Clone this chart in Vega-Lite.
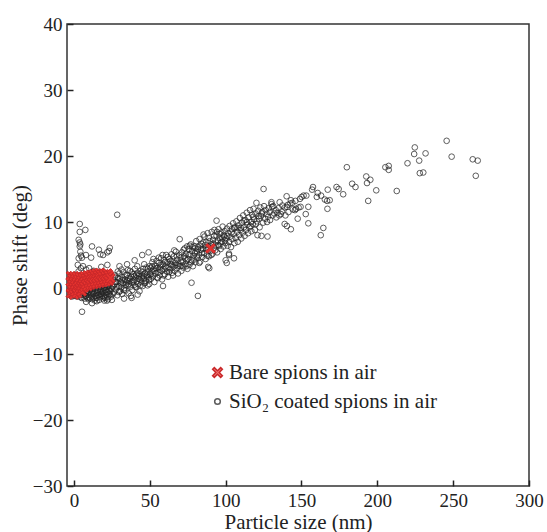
{
"$schema":"https://vega.github.io/schema/vega-lite/v6.json",
"width":462,"height":462,
"autosize":{"type":"none"},
"padding":{"left":67,"top":24,"right":18,"bottom":46},
"background":"white",
"config":{"view":{"stroke":"#333","strokeWidth":1.5},"font":"Liberation Serif"},
"data":{"values":[
{"x":-2,"y":-0.5,"s":"c"},{"x":-2,"y":0.3,"s":"c"},{"x":-2,"y":1.0,"s":"c"},{"x":-2,"y":-1.0,"s":"c"},
{"x":-1,"y":0.8,"s":"c"},{"x":-1,"y":-0.3,"s":"c"},{"x":-1,"y":1.5,"s":"c"},{"x":-1,"y":-0.8,"s":"c"},
{"x":0,"y":0.1,"s":"c"},{"x":0,"y":-0.6,"s":"c"},{"x":0,"y":0.6,"s":"c"},{"x":0,"y":1.2,"s":"c"},{"x":0,"y":-1.2,"s":"c"},
{"x":1,"y":-0.2,"s":"c"},{"x":1,"y":0.4,"s":"c"},{"x":1,"y":-0.9,"s":"c"},{"x":1,"y":1.0,"s":"c"},
{"x":2,"y":0.2,"s":"c"},{"x":2,"y":-0.5,"s":"c"},{"x":2,"y":0.9,"s":"c"},{"x":2,"y":-1.3,"s":"c"},{"x":2,"y":1.8,"s":"c"},
{"x":3,"y":-0.1,"s":"c"},{"x":3,"y":0.6,"s":"c"},{"x":3,"y":-0.7,"s":"c"},{"x":3,"y":1.4,"s":"c"},{"x":3,"y":2.5,"s":"c"},
{"x":4,"y":0.3,"s":"c"},{"x":4,"y":-0.4,"s":"c"},{"x":4,"y":-1.1,"s":"c"},{"x":4,"y":1.0,"s":"c"},
{"x":5,"y":0.0,"s":"c"},{"x":5,"y":-0.8,"s":"c"},{"x":5,"y":0.7,"s":"c"},{"x":5,"y":-1.5,"s":"c"},
{"x":6,"y":0.4,"s":"c"},{"x":6,"y":-0.3,"s":"c"},{"x":6,"y":-1.0,"s":"c"},{"x":6,"y":1.2,"s":"c"},
{"x":7,"y":-0.2,"s":"c"},{"x":7,"y":0.5,"s":"c"},{"x":7,"y":-0.9,"s":"c"},{"x":7,"y":-1.6,"s":"c"},
{"x":8,"y":0.1,"s":"c"},{"x":8,"y":-0.6,"s":"c"},{"x":8,"y":0.8,"s":"c"},{"x":8,"y":-1.2,"s":"c"},
{"x":9,"y":-0.4,"s":"c"},{"x":9,"y":0.3,"s":"c"},{"x":9,"y":-1.0,"s":"c"},{"x":9,"y":1.1,"s":"c"},
{"x":10,"y":0.0,"s":"c"},{"x":10,"y":-0.7,"s":"c"},{"x":10,"y":0.6,"s":"c"},{"x":10,"y":-1.4,"s":"c"},
{"x":11,"y":-0.3,"s":"c"},{"x":11,"y":0.4,"s":"c"},{"x":11,"y":-1.1,"s":"c"},{"x":11,"y":0.9,"s":"c"},
{"x":12,"y":0.2,"s":"c"},{"x":12,"y":-0.5,"s":"c"},{"x":12,"y":-1.7,"s":"c"},{"x":12,"y":1.0,"s":"c"},
{"x":13,"y":-0.1,"s":"c"},{"x":13,"y":0.5,"s":"c"},{"x":13,"y":-0.9,"s":"c"},{"x":13,"y":-1.4,"s":"c"},
{"x":14,"y":0.3,"s":"c"},{"x":14,"y":-0.4,"s":"c"},{"x":14,"y":-1.2,"s":"c"},{"x":14,"y":0.9,"s":"c"},
{"x":15,"y":0.0,"s":"c"},{"x":15,"y":-0.8,"s":"c"},{"x":15,"y":0.6,"s":"c"},{"x":15,"y":-1.5,"s":"c"},{"x":15,"y":1.3,"s":"c"},
{"x":16,"y":-0.3,"s":"c"},{"x":16,"y":0.4,"s":"c"},{"x":16,"y":-1.0,"s":"c"},{"x":16,"y":1.0,"s":"c"},
{"x":17,"y":0.1,"s":"c"},{"x":17,"y":-0.6,"s":"c"},{"x":17,"y":0.8,"s":"c"},{"x":17,"y":-1.3,"s":"c"},
{"x":18,"y":-0.2,"s":"c"},{"x":18,"y":0.5,"s":"c"},{"x":18,"y":-0.9,"s":"c"},{"x":18,"y":1.2,"s":"c"},
{"x":19,"y":0.3,"s":"c"},{"x":19,"y":-0.5,"s":"c"},{"x":19,"y":-1.6,"s":"c"},{"x":19,"y":0.9,"s":"c"},
{"x":20,"y":0.0,"s":"c"},{"x":20,"y":0.7,"s":"c"},{"x":20,"y":-0.8,"s":"c"},{"x":20,"y":-1.2,"s":"c"},{"x":20,"y":1.5,"s":"c"},
{"x":21,"y":-0.3,"s":"c"},{"x":21,"y":0.4,"s":"c"},{"x":21,"y":-1.0,"s":"c"},{"x":21,"y":1.1,"s":"c"},
{"x":22,"y":0.2,"s":"c"},{"x":22,"y":-0.6,"s":"c"},{"x":22,"y":0.9,"s":"c"},{"x":22,"y":-1.4,"s":"c"},
{"x":23,"y":0.5,"s":"c"},{"x":23,"y":-0.2,"s":"c"},{"x":23,"y":1.3,"s":"c"},{"x":23,"y":-0.9,"s":"c"},
{"x":24,"y":0.1,"s":"c"},{"x":24,"y":0.8,"s":"c"},{"x":24,"y":-0.5,"s":"c"},{"x":24,"y":1.8,"s":"c"},
{"x":-1.5,"y":-1.3,"s":"c"},{"x":-0.5,"y":-0.4,"s":"c"},{"x":0.5,"y":0.2,"s":"c"},{"x":1.5,"y":-1.1,"s":"c"},{"x":2.5,"y":-0.3,"s":"c"},{"x":3.5,"y":0.4,"s":"c"},{"x":4.5,"y":-1.4,"s":"c"},{"x":5.5,"y":-0.6,"s":"c"},{"x":6.5,"y":0.3,"s":"c"},{"x":7.5,"y":-1.2,"s":"c"},{"x":8.5,"y":-0.4,"s":"c"},{"x":9.5,"y":-1.7,"s":"c"},{"x":10.5,"y":-0.2,"s":"c"},{"x":11.5,"y":-1.3,"s":"c"},{"x":12.5,"y":-0.7,"s":"c"},{"x":13.5,"y":0.1,"s":"c"},{"x":14.5,"y":-1.5,"s":"c"},{"x":15.5,"y":-0.5,"s":"c"},{"x":16.5,"y":-1.8,"s":"c"},{"x":17.5,"y":-0.3,"s":"c"},{"x":18.5,"y":-1.2,"s":"c"},{"x":19.5,"y":0.0,"s":"c"},{"x":20.5,"y":-1.5,"s":"c"},{"x":21.5,"y":-0.6,"s":"c"},{"x":22.5,"y":-1.7,"s":"c"},{"x":23.5,"y":-0.4,"s":"c"},{"x":24.5,"y":-1.3,"s":"c"},
{"x":9.2,"y":-1.5,"s":"c"},{"x":11.7,"y":-0.8,"s":"c"},{"x":13.8,"y":-1.9,"s":"c"},{"x":15.8,"y":-1.1,"s":"c"},{"x":17.8,"y":-0.9,"s":"c"},{"x":19.8,"y":-1.4,"s":"c"},{"x":21.8,"y":-1.9,"s":"c"},{"x":23.8,"y":-1.0,"s":"c"},{"x":24.8,"y":-0.1,"s":"c"},{"x":22.8,"y":0.3,"s":"c"},{"x":20.8,"y":-0.3,"s":"c"},{"x":18.8,"y":-0.6,"s":"c"},
{"x":11.9,"y":-2.3,"s":"c"},{"x":5.3,"y":-3.6,"s":"c"},{"x":15,"y":-2.0,"s":"c"},{"x":20,"y":-1.9,"s":"c"},{"x":8,"y":-2.1,"s":"c"},{"x":25,"y":-1.8,"s":"c"},
{"x":3.8,"y":9.7,"s":"c"},{"x":7.5,"y":8.8,"s":"c"},{"x":3.8,"y":8.5,"s":"c"},{"x":3.1,"y":7.3,"s":"c"},{"x":3.8,"y":6.9,"s":"c"},{"x":4.2,"y":6.6,"s":"c"},{"x":3.8,"y":6.3,"s":"c"},{"x":4.2,"y":5.5,"s":"c"},{"x":4.6,"y":4.9,"s":"c"},{"x":3.1,"y":4.5,"s":"c"},{"x":5.3,"y":4.6,"s":"c"},
{"x":11.9,"y":6.3,"s":"c"},{"x":16.4,"y":5.8,"s":"c"},{"x":17.4,"y":5.1,"s":"c"},{"x":19.2,"y":5.0,"s":"c"},{"x":21.9,"y":5.4,"s":"c"},{"x":23.6,"y":6.1,"s":"c"},{"x":23,"y":5.6,"s":"c"},{"x":11.3,"y":4.6,"s":"c"},{"x":7.9,"y":5.0,"s":"c"},{"x":28.5,"y":11.1,"s":"c"},
{"x":2.5,"y":3.5,"s":"c"},{"x":4.5,"y":3.0,"s":"c"},{"x":6,"y":3.3,"s":"c"},{"x":8,"y":2.8,"s":"c"},{"x":10,"y":3.0,"s":"c"},{"x":13,"y":2.6,"s":"c"},{"x":18,"y":3.2,"s":"c"},{"x":22,"y":3.5,"s":"c"},
{"x":25.3,"y":0.2,"s":"c"},{"x":25.8,"y":1.3,"s":"c"},{"x":26.4,"y":-0.7,"s":"c"},{"x":26.9,"y":0.6,"s":"c"},{"x":27.2,"y":1.9,"s":"c"},{"x":27.7,"y":-0.2,"s":"c"},{"x":28.1,"y":0.9,"s":"c"},{"x":28.6,"y":-1.1,"s":"c"},{"x":29.0,"y":1.5,"s":"c"},{"x":29.4,"y":0.3,"s":"c"},{"x":29.9,"y":2.2,"s":"c"},{"x":30.3,"y":-0.5,"s":"c"},{"x":30.6,"y":1.0,"s":"c"},{"x":31.1,"y":0.1,"s":"c"},{"x":31.5,"y":1.7,"s":"c"},{"x":31.8,"y":-0.9,"s":"c"},{"x":32.3,"y":0.7,"s":"c"},{"x":32.7,"y":2.4,"s":"c"},{"x":33.2,"y":0.0,"s":"c"},{"x":33.5,"y":1.3,"s":"c"},{"x":34.0,"y":-0.4,"s":"c"},{"x":34.4,"y":0.9,"s":"c"},{"x":34.8,"y":2.0,"s":"c"},{"x":35.3,"y":0.4,"s":"c"},{"x":35.7,"y":1.5,"s":"c"},{"x":36.0,"y":-0.8,"s":"c"},{"x":36.5,"y":1.1,"s":"c"},{"x":36.9,"y":2.6,"s":"c"},{"x":37.3,"y":0.2,"s":"c"},{"x":37.8,"y":1.7,"s":"c"},{"x":38.2,"y":0.8,"s":"c"},{"x":38.5,"y":-0.3,"s":"c"},{"x":39.0,"y":2.1,"s":"c"},{"x":39.4,"y":1.2,"s":"c"},{"x":39.9,"y":0.5,"s":"c"},{"x":40.2,"y":2.9,"s":"c"},{"x":40.7,"y":1.6,"s":"c"},{"x":41.1,"y":0.1,"s":"c"},{"x":41.4,"y":1.0,"s":"c"},{"x":41.9,"y":2.3,"s":"c"},{"x":42.3,"y":0.6,"s":"c"},{"x":42.8,"y":1.8,"s":"c"},{"x":43.2,"y":-0.5,"s":"c"},{"x":43.5,"y":1.3,"s":"c"},{"x":44.0,"y":2.6,"s":"c"},{"x":44.4,"y":0.9,"s":"c"},{"x":44.9,"y":1.9,"s":"c"},{"x":45.3,"y":0.3,"s":"c"},{"x":45.6,"y":2.9,"s":"c"},{"x":46.1,"y":1.4,"s":"c"},{"x":46.5,"y":0.7,"s":"c"},{"x":46.8,"y":2.2,"s":"c"},{"x":47.3,"y":1.1,"s":"c"},{"x":47.7,"y":3.1,"s":"c"},{"x":48.2,"y":1.7,"s":"c"},{"x":48.5,"y":0.4,"s":"c"},{"x":49.0,"y":2.5,"s":"c"},{"x":49.4,"y":1.2,"s":"c"},{"x":49.8,"y":3.3,"s":"c"},
{"x":25.5,"y":-0.9,"s":"c"},{"x":26.1,"y":0.4,"s":"c"},{"x":26.7,"y":1.6,"s":"c"},{"x":27.5,"y":0.9,"s":"c"},{"x":28.3,"y":0.2,"s":"c"},{"x":28.9,"y":2.5,"s":"c"},{"x":29.6,"y":-0.6,"s":"c"},{"x":30.1,"y":1.4,"s":"c"},{"x":30.9,"y":0.7,"s":"c"},{"x":31.3,"y":2.8,"s":"c"},{"x":32.0,"y":1.2,"s":"c"},{"x":32.9,"y":-0.3,"s":"c"},{"x":33.8,"y":1.9,"s":"c"},{"x":34.2,"y":0.5,"s":"c"},{"x":35.0,"y":1.1,"s":"c"},{"x":35.5,"y":2.7,"s":"c"},{"x":36.2,"y":0.6,"s":"c"},{"x":37.0,"y":1.4,"s":"c"},{"x":37.5,"y":-1.2,"s":"c"},{"x":38.0,"y":2.4,"s":"c"},{"x":38.8,"y":1.0,"s":"c"},{"x":39.7,"y":1.8,"s":"c"},{"x":40.4,"y":0.2,"s":"c"},{"x":41.0,"y":2.0,"s":"c"},{"x":41.7,"y":3.3,"s":"c"},{"x":42.5,"y":1.4,"s":"c"},{"x":43.0,"y":2.1,"s":"c"},{"x":43.8,"y":0.4,"s":"c"},{"x":44.6,"y":1.5,"s":"c"},{"x":45.1,"y":2.4,"s":"c"},{"x":45.9,"y":1.8,"s":"c"},{"x":46.3,"y":3.6,"s":"c"},{"x":47.0,"y":0.8,"s":"c"},{"x":47.9,"y":2.0,"s":"c"},{"x":48.7,"y":2.9,"s":"c"},{"x":49.2,"y":1.6,"s":"c"},{"x":49.6,"y":0.6,"s":"c"},{"x":50.0,"y":2.1,"s":"c"},
{"x":49.2,"y":5.4,"s":"c"},{"x":45,"y":5.0,"s":"c"},{"x":38,"y":-1.5,"s":"c"},{"x":42,"y":-1.0,"s":"c"},{"x":33,"y":-1.6,"s":"c"},{"x":35,"y":3.6,"s":"c"},{"x":30,"y":3.3,"s":"c"},{"x":40,"y":4.2,"s":"c"},
{"x":50.4,"y":3.0,"s":"c"},{"x":50.8,"y":1.4,"s":"c"},{"x":51.3,"y":2.5,"s":"c"},{"x":51.7,"y":3.9,"s":"c"},{"x":52.2,"y":1.8,"s":"c"},{"x":52.6,"y":2.9,"s":"c"},{"x":53.0,"y":0.9,"s":"c"},{"x":53.5,"y":3.4,"s":"c"},{"x":53.9,"y":2.2,"s":"c"},{"x":54.4,"y":4.1,"s":"c"},{"x":54.8,"y":1.6,"s":"c"},{"x":55.1,"y":3.0,"s":"c"},{"x":55.6,"y":2.4,"s":"c"},{"x":56.0,"y":3.8,"s":"c"},{"x":56.5,"y":1.9,"s":"c"},{"x":56.9,"y":3.2,"s":"c"},{"x":57.4,"y":4.5,"s":"c"},{"x":57.8,"y":2.6,"s":"c"},{"x":58.1,"y":1.3,"s":"c"},{"x":58.6,"y":3.6,"s":"c"},{"x":59.0,"y":2.9,"s":"c"},{"x":59.5,"y":4.2,"s":"c"},{"x":59.9,"y":2.1,"s":"c"},{"x":60.3,"y":3.3,"s":"c"},{"x":60.8,"y":5.0,"s":"c"},{"x":61.2,"y":2.5,"s":"c"},{"x":61.6,"y":3.9,"s":"c"},{"x":62.1,"y":1.7,"s":"c"},{"x":62.5,"y":3.1,"s":"c"},{"x":62.9,"y":4.4,"s":"c"},{"x":63.4,"y":2.8,"s":"c"},{"x":63.8,"y":3.6,"s":"c"},{"x":64.3,"y":5.1,"s":"c"},{"x":64.7,"y":2.3,"s":"c"},{"x":65.0,"y":4.0,"s":"c"},{"x":65.5,"y":3.2,"s":"c"},{"x":65.9,"y":4.8,"s":"c"},{"x":66.4,"y":2.6,"s":"c"},{"x":66.8,"y":3.8,"s":"c"},{"x":67.2,"y":5.5,"s":"c"},{"x":67.7,"y":3.0,"s":"c"},{"x":68.1,"y":4.3,"s":"c"},{"x":68.6,"y":2.2,"s":"c"},{"x":69.0,"y":3.7,"s":"c"},{"x":69.5,"y":5.0,"s":"c"},{"x":69.9,"y":3.3,"s":"c"},{"x":70.3,"y":4.6,"s":"c"},{"x":70.8,"y":2.6,"s":"c"},{"x":71.2,"y":5.4,"s":"c"},{"x":71.7,"y":4.0,"s":"c"},{"x":72.1,"y":3.1,"s":"c"},{"x":72.6,"y":4.8,"s":"c"},{"x":73.0,"y":6.0,"s":"c"},{"x":73.4,"y":3.6,"s":"c"},{"x":73.9,"y":5.2,"s":"c"},{"x":74.3,"y":4.2,"s":"c"},{"x":74.8,"y":2.9,"s":"c"},
{"x":50.6,"y":2.0,"s":"c"},{"x":51.5,"y":3.3,"s":"c"},{"x":52.4,"y":4.4,"s":"c"},{"x":53.2,"y":2.6,"s":"c"},{"x":54.1,"y":3.0,"s":"c"},{"x":55.3,"y":1.5,"s":"c"},{"x":55.9,"y":4.6,"s":"c"},{"x":56.7,"y":2.8,"s":"c"},{"x":57.6,"y":3.5,"s":"c"},{"x":58.4,"y":5.0,"s":"c"},{"x":58.7,"y":0.3,"s":"c"},{"x":59.2,"y":1.9,"s":"c"},{"x":60.0,"y":3.9,"s":"c"},{"x":61.0,"y":3.0,"s":"c"},{"x":61.9,"y":4.7,"s":"c"},{"x":62.7,"y":2.4,"s":"c"},{"x":63.6,"y":4.1,"s":"c"},{"x":64.5,"y":3.5,"s":"c"},{"x":65.3,"y":1.9,"s":"c"},{"x":66.1,"y":5.7,"s":"c"},{"x":67.0,"y":3.5,"s":"c"},{"x":67.9,"y":4.8,"s":"c"},{"x":68.8,"y":3.4,"s":"c"},{"x":69.7,"y":7.4,"s":"c"},{"x":70.5,"y":4.0,"s":"c"},{"x":71.4,"y":3.4,"s":"c"},{"x":72.3,"y":5.8,"s":"c"},{"x":73.2,"y":4.5,"s":"c"},{"x":74.1,"y":3.3,"s":"c"},{"x":74.6,"y":6.3,"s":"c"},
{"x":75.2,"y":4.4,"s":"c"},{"x":75.7,"y":5.9,"s":"c"},{"x":76.1,"y":3.5,"s":"c"},{"x":76.6,"y":5.1,"s":"c"},{"x":77.0,"y":6.6,"s":"c"},{"x":77.5,"y":4.2,"s":"c"},{"x":77.9,"y":5.6,"s":"c"},{"x":78.4,"y":3.3,"s":"c"},{"x":78.8,"y":4.9,"s":"c"},{"x":79.3,"y":6.3,"s":"c"},{"x":79.7,"y":5.3,"s":"c"},{"x":80.1,"y":3.9,"s":"c"},{"x":80.6,"y":7.1,"s":"c"},{"x":81.0,"y":5.5,"s":"c"},{"x":81.5,"y":4.5,"s":"c"},{"x":81.9,"y":6.2,"s":"c"},{"x":82.4,"y":5.0,"s":"c"},{"x":82.8,"y":7.4,"s":"c"},{"x":83.2,"y":4.0,"s":"c"},{"x":83.7,"y":5.8,"s":"c"},{"x":84.1,"y":6.7,"s":"c"},{"x":84.6,"y":4.7,"s":"c"},{"x":85.0,"y":5.9,"s":"c"},{"x":85.4,"y":8.1,"s":"c"},{"x":85.9,"y":5.3,"s":"c"},{"x":86.3,"y":6.5,"s":"c"},{"x":86.8,"y":4.4,"s":"c"},{"x":87.2,"y":7.0,"s":"c"},{"x":87.7,"y":5.8,"s":"c"},{"x":88.1,"y":8.3,"s":"c"},{"x":88.6,"y":6.2,"s":"c"},{"x":89.0,"y":4.8,"s":"c"},{"x":89.5,"y":7.1,"s":"c"},{"x":89.9,"y":5.6,"s":"c"},{"x":90.4,"y":6.6,"s":"c"},{"x":90.8,"y":8.5,"s":"c"},{"x":91.3,"y":5.2,"s":"c"},{"x":91.7,"y":7.3,"s":"c"},{"x":92.2,"y":6.1,"s":"c"},{"x":92.6,"y":8.8,"s":"c"},{"x":93.1,"y":5.7,"s":"c"},{"x":93.5,"y":6.9,"s":"c"},{"x":94.0,"y":7.9,"s":"c"},{"x":94.4,"y":5.4,"s":"c"},{"x":94.9,"y":7.2,"s":"c"},{"x":95.3,"y":8.9,"s":"c"},{"x":95.8,"y":6.4,"s":"c"},{"x":96.2,"y":7.6,"s":"c"},{"x":96.7,"y":5.9,"s":"c"},{"x":97.1,"y":8.4,"s":"c"},{"x":97.6,"y":7.0,"s":"c"},{"x":98.0,"y":9.3,"s":"c"},{"x":98.5,"y":6.3,"s":"c"},{"x":98.9,"y":7.8,"s":"c"},{"x":99.4,"y":8.6,"s":"c"},{"x":99.8,"y":6.8,"s":"c"},
{"x":75.5,"y":5.0,"s":"c"},{"x":76.4,"y":6.4,"s":"c"},{"x":77.3,"y":3.9,"s":"c"},{"x":78.1,"y":6.2,"s":"c"},{"x":79.0,"y":4.3,"s":"c"},{"x":79.9,"y":6.0,"s":"c"},{"x":80.9,"y":4.8,"s":"c"},{"x":81.7,"y":5.9,"s":"c"},{"x":82.6,"y":3.8,"s":"c"},{"x":83.4,"y":6.4,"s":"c"},{"x":84.3,"y":5.3,"s":"c"},{"x":85.2,"y":6.9,"s":"c"},{"x":86.1,"y":7.8,"s":"c"},{"x":87.0,"y":6.0,"s":"c"},{"x":87.9,"y":4.9,"s":"c"},{"x":88.8,"y":7.6,"s":"c"},{"x":89.7,"y":6.3,"s":"c"},{"x":90.6,"y":5.0,"s":"c"},{"x":91.5,"y":6.7,"s":"c"},{"x":92.4,"y":7.9,"s":"c"},{"x":93.3,"y":6.4,"s":"c"},{"x":94.2,"y":8.5,"s":"c"},{"x":95.1,"y":6.5,"s":"c"},{"x":96.0,"y":8.2,"s":"c"},{"x":96.9,"y":6.9,"s":"c"},{"x":97.8,"y":7.5,"s":"c"},{"x":98.7,"y":8.0,"s":"c"},{"x":99.6,"y":7.2,"s":"c"},
{"x":77.5,"y":0.8,"s":"c"},{"x":81.7,"y":-1.2,"s":"c"},{"x":88.5,"y":3.2,"s":"c"},{"x":89.2,"y":3.0,"s":"c"},{"x":94,"y":10.2,"s":"c"},{"x":100.7,"y":3.8,"s":"c"},{"x":100,"y":4.2,"s":"c"},{"x":102.2,"y":5.0,"s":"c"},{"x":105.5,"y":4.5,"s":"c"},{"x":102.2,"y":5.2,"s":"c"},
{"x":100.3,"y":7.5,"s":"c"},{"x":100.8,"y":9.0,"s":"c"},{"x":101.3,"y":6.4,"s":"c"},{"x":101.7,"y":8.3,"s":"c"},{"x":102.2,"y":7.0,"s":"c"},{"x":102.6,"y":9.4,"s":"c"},{"x":103.1,"y":7.8,"s":"c"},{"x":103.5,"y":6.2,"s":"c"},{"x":104.0,"y":8.9,"s":"c"},{"x":104.4,"y":7.4,"s":"c"},{"x":104.9,"y":9.8,"s":"c"},{"x":105.3,"y":8.2,"s":"c"},{"x":105.8,"y":6.8,"s":"c"},{"x":106.2,"y":9.2,"s":"c"},{"x":106.7,"y":7.6,"s":"c"},{"x":107.1,"y":10.1,"s":"c"},{"x":107.6,"y":8.5,"s":"c"},{"x":108.0,"y":7.0,"s":"c"},{"x":108.5,"y":9.5,"s":"c"},{"x":108.9,"y":8.0,"s":"c"},{"x":109.4,"y":10.6,"s":"c"},{"x":109.8,"y":8.8,"s":"c"},{"x":110.3,"y":7.5,"s":"c"},{"x":110.7,"y":9.9,"s":"c"},{"x":111.2,"y":8.4,"s":"c"},{"x":111.6,"y":11.0,"s":"c"},{"x":112.1,"y":9.2,"s":"c"},{"x":112.5,"y":7.9,"s":"c"},{"x":113.0,"y":10.3,"s":"c"},{"x":113.4,"y":8.8,"s":"c"},{"x":113.9,"y":11.4,"s":"c"},{"x":114.3,"y":9.6,"s":"c"},{"x":114.8,"y":8.3,"s":"c"},{"x":115.2,"y":10.7,"s":"c"},{"x":115.7,"y":9.2,"s":"c"},{"x":116.1,"y":11.8,"s":"c"},{"x":116.6,"y":10.0,"s":"c"},{"x":117.0,"y":8.6,"s":"c"},{"x":117.5,"y":11.1,"s":"c"},{"x":117.9,"y":9.7,"s":"c"},{"x":118.4,"y":12.0,"s":"c"},{"x":118.8,"y":10.4,"s":"c"},{"x":119.3,"y":8.8,"s":"c"},{"x":119.7,"y":11.3,"s":"c"},{"x":120.3,"y":12.9,"s":"c"},{"x":120.6,"y":10.1,"s":"c"},{"x":121.0,"y":8.0,"s":"c"},{"x":121.5,"y":11.7,"s":"c"},{"x":122.0,"y":10.5,"s":"c"},{"x":122.4,"y":9.2,"s":"c"},{"x":122.9,"y":12.2,"s":"c"},{"x":123.3,"y":10.9,"s":"c"},{"x":123.6,"y":7.9,"s":"c"},{"x":124.2,"y":11.5,"s":"c"},{"x":124.7,"y":9.9,"s":"c"},{"x":125.0,"y":15.0,"s":"c"},{"x":125.3,"y":12.4,"s":"c"},{"x":127.6,"y":7.8,"s":"c"},
{"x":101.0,"y":7.9,"s":"c"},{"x":103.8,"y":8.4,"s":"c"},{"x":105.6,"y":9.1,"s":"c"},{"x":107.9,"y":9.1,"s":"c"},{"x":110.0,"y":9.1,"s":"c"},{"x":111.9,"y":10.2,"s":"c"},{"x":114.0,"y":10.0,"s":"c"},{"x":116.3,"y":9.4,"s":"c"},{"x":118.1,"y":10.8,"s":"c"},{"x":120.0,"y":9.7,"s":"c"},{"x":121.8,"y":10.9,"s":"c"},{"x":123.8,"y":11.3,"s":"c"},
{"x":126,"y":10.5,"s":"c"},{"x":126.4,"y":11.8,"s":"c"},{"x":127,"y":11.2,"s":"c"},{"x":127.3,"y":10.0,"s":"c"},
{"x":128,"y":10.8,"s":"c"},{"x":128.4,"y":12.1,"s":"c"},{"x":129,"y":11.5,"s":"c"},{"x":129.3,"y":10.3,"s":"c"},
{"x":130.2,"y":13.0,"s":"c"},{"x":130.2,"y":12.7,"s":"c"},{"x":130.7,"y":12.3,"s":"c"},{"x":131,"y":11.0,"s":"c"},{"x":131.4,"y":12.4,"s":"c"},
{"x":132,"y":11.3,"s":"c"},{"x":133,"y":11.8,"s":"c"},{"x":133.4,"y":10.7,"s":"c"},{"x":134.2,"y":11.4,"s":"c"},
{"x":135,"y":12.1,"s":"c"},{"x":135.3,"y":11.0,"s":"c"},{"x":135.6,"y":13.0,"s":"c"},{"x":136.4,"y":11.2,"s":"c"},
{"x":137,"y":11.6,"s":"c"},{"x":137.4,"y":12.5,"s":"c"},{"x":138.9,"y":9.7,"s":"c"},{"x":139,"y":12.2,"s":"c"},{"x":139.4,"y":11.0,"s":"c"},
{"x":140.4,"y":9.4,"s":"c"},{"x":143,"y":8.9,"s":"c"},{"x":140.2,"y":13.9,"s":"c"},{"x":143,"y":13.3,"s":"c"},{"x":142.6,"y":12.8,"s":"c"},{"x":140.4,"y":12.3,"s":"c"},
{"x":141,"y":12.6,"s":"c"},{"x":141.4,"y":11.5,"s":"c"},{"x":144,"y":12.9,"s":"c"},{"x":144.3,"y":11.9,"s":"c"},
{"x":145.7,"y":11.8,"s":"c"},{"x":146,"y":13.2,"s":"c"},{"x":146.4,"y":12.0,"s":"c"},{"x":148.1,"y":12.2,"s":"c"},{"x":149,"y":13.5,"s":"c"},{"x":149.4,"y":12.3,"s":"c"},
{"x":151.4,"y":14.0,"s":"c"},{"x":150.1,"y":13.8,"s":"c"},{"x":153.2,"y":14.0,"s":"c"},{"x":154.5,"y":12.3,"s":"c"},{"x":152.8,"y":11.2,"s":"c"},{"x":154.5,"y":9.8,"s":"c"},{"x":147.5,"y":10.5,"s":"c"},
{"x":157.6,"y":15.3,"s":"c"},{"x":157,"y":14.9,"s":"c"},{"x":160.7,"y":14.4,"s":"c"},{"x":160.1,"y":13.8,"s":"c"},{"x":162.9,"y":14.0,"s":"c"},{"x":165.4,"y":13.4,"s":"c"},{"x":164.4,"y":9.1,"s":"c"},{"x":162.7,"y":8.0,"s":"c"},
{"x":167.3,"y":14.9,"s":"c"},{"x":168.6,"y":13.3,"s":"c"},{"x":166.9,"y":13.2,"s":"c"},{"x":167.1,"y":12.0,"s":"c"},{"x":173.1,"y":15.3,"s":"c"},{"x":174.5,"y":15.0,"s":"c"},{"x":177.5,"y":14.2,"s":"c"},
{"x":179.9,"y":18.3,"s":"c"},{"x":183.4,"y":15.8,"s":"c"},{"x":185.6,"y":15.3,"s":"c"},{"x":192.7,"y":16.9,"s":"c"},{"x":195.4,"y":16.4,"s":"c"},{"x":193.2,"y":15.9,"s":"c"},{"x":199.3,"y":14.8,"s":"c"},{"x":194,"y":13.2,"s":"c"},
{"x":205.3,"y":18.3,"s":"c"},{"x":207.5,"y":18.5,"s":"c"},{"x":207.5,"y":17.9,"s":"c"},{"x":212.8,"y":14.7,"s":"c"},{"x":219.9,"y":18.9,"s":"c"},
{"x":224.7,"y":21.3,"s":"c"},{"x":224.3,"y":20.3,"s":"c"},{"x":231.8,"y":20.4,"s":"c"},{"x":227.6,"y":19.3,"s":"c"},{"x":228,"y":17.4,"s":"c"},{"x":230.3,"y":17.5,"s":"c"},
{"x":245.7,"y":22.3,"s":"c"},{"x":249,"y":19.9,"s":"c"},{"x":262.9,"y":19.5,"s":"c"},{"x":266.2,"y":19.3,"s":"c"},{"x":264.9,"y":17.0,"s":"c"},
{"x":-2,"y":0.0,"s":"b"},{"x":-2,"y":1.0,"s":"b"},{"x":-2,"y":-0.8,"s":"b"},{"x":-2,"y":1.8,"s":"b"},
{"x":-1,"y":0.5,"s":"b"},{"x":-1,"y":-0.3,"s":"b"},{"x":-1,"y":1.4,"s":"b"},
{"x":0,"y":0.2,"s":"b"},{"x":0,"y":1.0,"s":"b"},{"x":0,"y":-1.0,"s":"b"},{"x":0,"y":1.8,"s":"b"},
{"x":1,"y":-0.5,"s":"b"},{"x":1,"y":0.6,"s":"b"},{"x":1,"y":1.3,"s":"b"},
{"x":2,"y":0.0,"s":"b"},{"x":2,"y":1.0,"s":"b"},{"x":2,"y":-0.8,"s":"b"},{"x":2,"y":1.7,"s":"b"},
{"x":3,"y":0.4,"s":"b"},{"x":3,"y":-0.3,"s":"b"},{"x":3,"y":1.2,"s":"b"},
{"x":4,"y":0.8,"s":"b"},{"x":4,"y":0.0,"s":"b"},{"x":4,"y":1.6,"s":"b"},
{"x":5,"y":0.3,"s":"b"},{"x":5,"y":1.1,"s":"b"},{"x":5,"y":-0.5,"s":"b"},
{"x":6,"y":0.7,"s":"b"},{"x":6,"y":1.5,"s":"b"},{"x":6,"y":0.0,"s":"b"},
{"x":7,"y":1.0,"s":"b"},{"x":7,"y":0.2,"s":"b"},{"x":7,"y":1.8,"s":"b"},
{"x":8,"y":0.6,"s":"b"},{"x":8,"y":1.4,"s":"b"},
{"x":9,"y":1.1,"s":"b"},{"x":9,"y":0.3,"s":"b"},{"x":9,"y":1.9,"s":"b"},
{"x":10,"y":0.8,"s":"b"},{"x":10,"y":1.6,"s":"b"},
{"x":11,"y":1.2,"s":"b"},{"x":11,"y":0.5,"s":"b"},{"x":11,"y":2.0,"s":"b"},
{"x":12,"y":0.9,"s":"b"},{"x":12,"y":1.7,"s":"b"},
{"x":13,"y":1.4,"s":"b"},{"x":13,"y":0.6,"s":"b"},{"x":13,"y":2.1,"s":"b"},
{"x":14,"y":1.0,"s":"b"},{"x":14,"y":1.8,"s":"b"},
{"x":15,"y":1.5,"s":"b"},{"x":15,"y":0.7,"s":"b"},{"x":15,"y":2.2,"s":"b"},
{"x":16,"y":1.1,"s":"b"},{"x":16,"y":1.9,"s":"b"},
{"x":17,"y":1.6,"s":"b"},{"x":17,"y":0.8,"s":"b"},{"x":17,"y":2.3,"s":"b"},
{"x":18,"y":1.2,"s":"b"},{"x":18,"y":2.0,"s":"b"},
{"x":19,"y":1.7,"s":"b"},{"x":19,"y":0.9,"s":"b"},
{"x":20,"y":1.3,"s":"b"},{"x":20,"y":2.1,"s":"b"},
{"x":21,"y":1.8,"s":"b"},{"x":21,"y":1.0,"s":"b"},
{"x":22,"y":1.4,"s":"b"},{"x":22,"y":2.2,"s":"b"},
{"x":23,"y":1.9,"s":"b"},{"x":23,"y":1.1,"s":"b"},
{"x":24,"y":1.5,"s":"b"},
{"x":90,"y":6.0,"s":"b"}
]},
"mark":{"type":"point","filled":true,"strokeWidth":1},
"encoding":{
"x":{"field":"x","type":"quantitative","scale":{"domain":[-4.6,300],"nice":false,"zero":false},
 "axis":{"title":"Particle size (nm)","values":[0,50,100,150,200,250,300],"grid":false,"domain":false,"tickSize":-6,"tickWidth":1.5,"tickColor":"#222","labelFont":"Liberation Serif","labelFontSize":19,"labelColor":"#222","labelPadding":11,"labelFlush":false,"titleFont":"Liberation Serif","titleFontSize":21,"titleFontWeight":"normal","titleColor":"#222","titlePadding":1}},
"y":{"field":"y","type":"quantitative","scale":{"domain":[-30,40],"nice":false,"zero":false},
 "axis":{"title":"Phase shift (deg)","values":[-30,-20,-10,0,10,20,30,40],"grid":false,"domain":false,"tickSize":-6,"tickWidth":1.5,"tickColor":"#222","labelFont":"Liberation Serif","labelFontSize":19,"labelColor":"#222","labelPadding":11,"labelFlush":false,"labelExpr":"replace(datum.label,'-','\u2212')","titleFont":"Liberation Serif","titleFontSize":21,"titleFontWeight":"normal","titleColor":"#222","titlePadding":1.5}},
"shape":{"field":"s","type":"nominal","scale":{"domain":["b","c"],"range":["M-1,-0.65L-0.65,-1L0,-0.35L0.65,-1L1,-0.65L0.35,0L1,0.65L0.65,1L0,0.35L-0.65,1L-1,0.65L-0.35,0Z","circle"]},
 "legend":{"title":null,"orient":"none","legendX":140,"legendY":338,"labelFont":"Liberation Serif","labelFontSize":21,"labelColor":"#222","labelLimit":400,"rowPadding":7,"labelOffset":1,"labelExpr":"datum.label == 'b' ? 'Bare spions in air' : 'SiO\u2082 coated spions in air'"}},
"fill":{"field":"s","type":"nominal","scale":{"domain":["b","c"],"range":["#e5332f","transparent"]}},
"stroke":{"field":"s","type":"nominal","scale":{"domain":["b","c"],"range":["#c9282a","#262626"]}},
"opacity":{"field":"s","type":"nominal","scale":{"domain":["b","c"],"range":[1,0.75]}},
"size":{"field":"s","type":"nominal","scale":{"domain":["b","c"],"range":[95,32]}}
}
}
